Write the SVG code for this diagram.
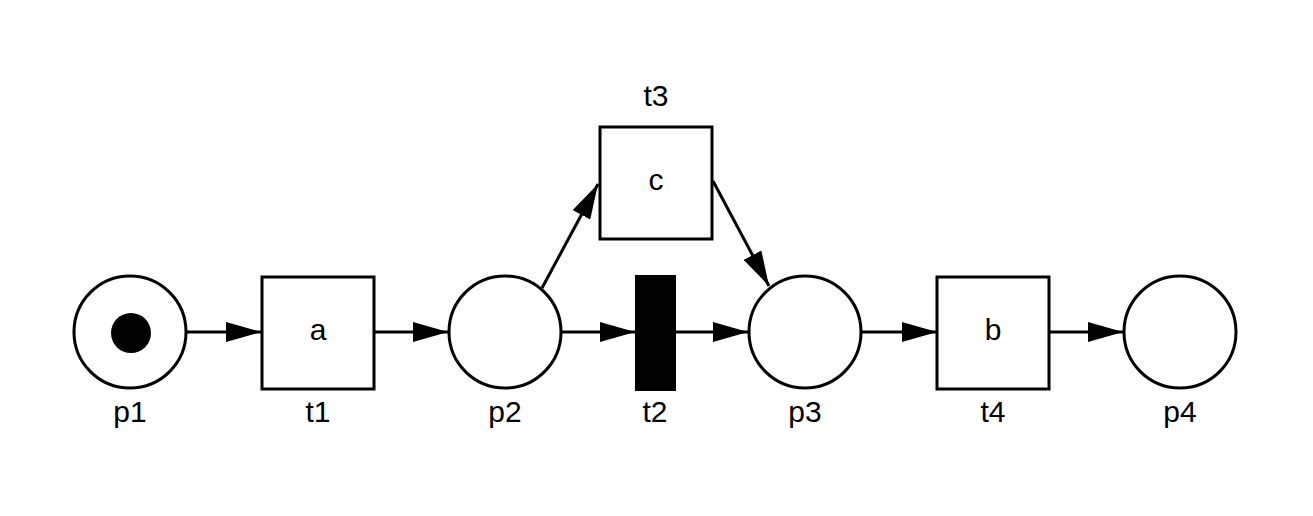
<svg xmlns="http://www.w3.org/2000/svg" width="1313" height="516" viewBox="0 0 1313 516">
<style>
.place{fill:#fff;stroke:#000;stroke-width:3}
.trans{fill:#fff;stroke:#000;stroke-width:3}
.arc{stroke:#000;stroke-width:3;fill:none;marker-end:url(#arrow)}
text{font-family:"Liberation Sans",Arial,sans-serif;font-size:30px;fill:#000;text-anchor:middle}
</style>
<defs>
<marker id="arrow" markerUnits="userSpaceOnUse" markerWidth="36" markerHeight="20" refX="35" refY="10" orient="auto" viewBox="0 0 36 20">
<path d="M0,0 L35,10 L0,20 z" fill="#000"/>
</marker>
</defs>
<rect width="1313" height="516" fill="#fff"/>
<g id="connectors">
<line class="arc" x1="187" y1="332" x2="261" y2="332"/>
<line class="arc" x1="375" y1="332" x2="448" y2="332"/>
<line class="arc" x1="562" y1="332" x2="635" y2="332"/>
<line class="arc" x1="676" y1="332" x2="748" y2="332"/>
<line class="arc" x1="861" y1="332" x2="937" y2="332"/>
<line class="arc" x1="1050" y1="332" x2="1123" y2="332"/>
<line class="arc" x1="542" y1="288" x2="598" y2="184"/>
<line class="arc" x1="713" y1="181" x2="769" y2="286"/>
</g>
<g id="p1">
<circle class="place" cx="130" cy="332" r="56"/>
<circle cx="131" cy="333" r="20" fill="#000"/>
<text x="130" y="422">p1</text>
</g>
<g id="t1">
<rect class="trans" x="262" y="277" width="112" height="112"/>
<text x="318" y="340">a</text>
<text x="318" y="422">t1</text>
</g>
<g id="p2">
<circle class="place" cx="505" cy="332" r="56"/>
<text x="505" y="422">p2</text>
</g>
<g id="t2">
<rect x="635" y="275" width="41" height="116" fill="#000"/>
<text x="655" y="422">t2</text>
</g>
<g id="t3">
<rect class="trans" x="600" y="127" width="112" height="112"/>
<text x="656" y="190">c</text>
<text x="656" y="106">t3</text>
</g>
<g id="p3">
<circle class="place" cx="805" cy="332" r="56"/>
<text x="805" y="422">p3</text>
</g>
<g id="t4">
<rect class="trans" x="937" y="277" width="112" height="112"/>
<text x="993" y="340">b</text>
<text x="993" y="422">t4</text>
</g>
<g id="p4">
<circle class="place" cx="1180" cy="332" r="56"/>
<text x="1180" y="422">p4</text>
</g>
</svg>
